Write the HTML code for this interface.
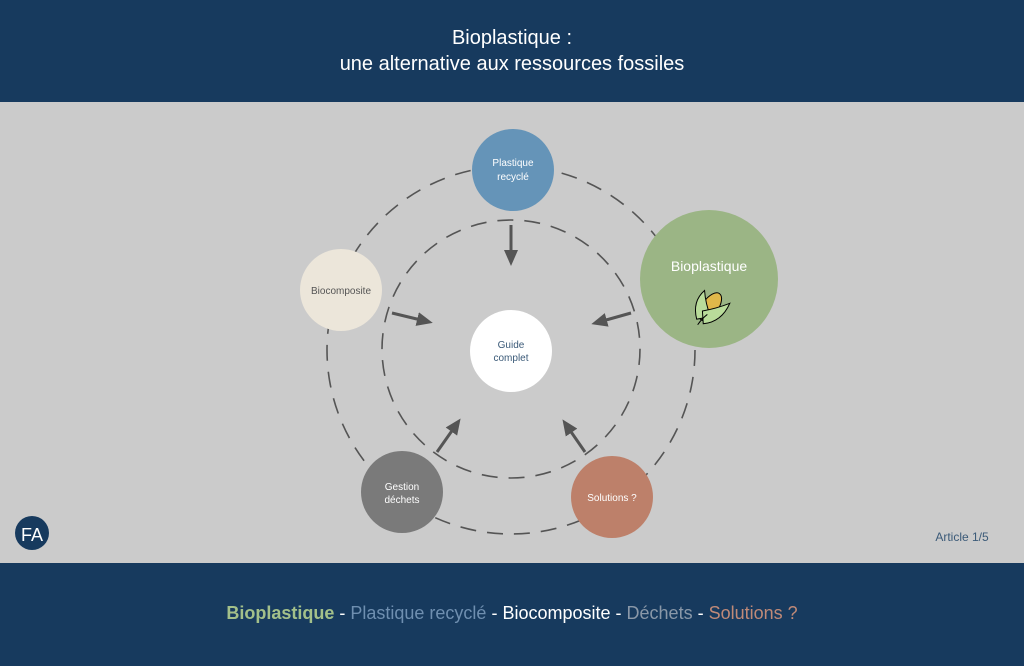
<!DOCTYPE html>
<html><head><meta charset="utf-8"><style>
body{margin:0;width:1024px;height:666px;overflow:hidden;font-family:"Liberation Sans",sans-serif;background:#cbcbcb}
.h{position:absolute;left:0;top:0;width:1024px;height:102px;background:#173a5e;color:#fff;text-align:center;font-size:20px;line-height:26px}
.f{position:absolute;left:0;top:563px;width:1024px;height:103px;background:#173a5e;text-align:center;font-size:18px;line-height:100px}
</style></head><body>
<div class="h"><div style="padding-top:25px">Bioplastique :<br>une alternative aux ressources fossiles</div></div>
<svg style="position:absolute;left:0;top:0" width="1024" height="666">
<defs><marker id="a" markerWidth="16" markerHeight="16" refX="8" refY="8" orient="auto" markerUnits="userSpaceOnUse" viewBox="0 0 16 16"><path d="M0,1L16,8L0,15Z" fill="#555"/></marker></defs>
<g fill="none" stroke="#555" stroke-width="1.6" stroke-dasharray="16 11">
<circle cx="511" cy="350" r="184"/>
<circle cx="511" cy="349" r="129"/>
</g>
<g stroke="#555" stroke-width="3" marker-end="url(#a)">
<line x1="511" y1="225" x2="511" y2="258"/>
<line x1="392" y1="313" x2="425" y2="321"/>
<line x1="631" y1="313" x2="599" y2="322"/>
<line x1="437" y1="452" x2="456" y2="425"/>
<line x1="585" y1="452" x2="567" y2="426"/>
</g>
<circle cx="513" cy="170" r="41" fill="#6594b8"/>
<circle cx="709" cy="279" r="69" fill="#9bb585"/>
<circle cx="341" cy="290" r="41" fill="#ece6da"/>
<circle cx="511" cy="351" r="41" fill="#fff"/>
<circle cx="402" cy="492" r="41" fill="#7a7a7a"/>
<circle cx="612" cy="497" r="41" fill="#bd806a"/>
<g transform="translate(708,310) rotate(-55)">
<ellipse cx="4" cy="0" rx="16" ry="8" fill="#e0b84a" stroke="#000"/>
<path d="M-14,-4 Q-2,-18 14,-14 Q4,-6 -4,6Z" fill="#b9dc9a" stroke="#000"/>
<path d="M-14,4 Q-2,18 18,14 Q6,6 -4,-4Z" fill="#b9dc9a" stroke="#000"/>
<path d="M-18,0 Q-10,0 -4,2" fill="none" stroke="#000"/>
</g>
<g font-size="10" text-anchor="middle" fill="#fff">
<text x="513" y="166">Plastique</text><text x="513" y="180">recyclé</text>
<text x="709" y="271" font-size="14">Bioplastique</text>
<text x="341" y="294" fill="#555">Biocomposite</text>
<text x="511" y="348" fill="#3b5a78">Guide</text><text x="511" y="361" fill="#3b5a78">complet</text>
<text x="402" y="490">Gestion</text><text x="402" y="503">déchets</text>
<text x="612" y="501">Solutions ?</text>
<text x="962" y="541" font-size="12" fill="#3b5a78">Article 1/5</text>
</g>
<circle cx="32" cy="533" r="17" fill="#173a5e"/>
<text x="32" y="541" font-size="18" fill="#fff" text-anchor="middle">FA</text>
</svg>
<div class="f"><b style="color:#a3c08a">Bioplastique</b> <span style="color:#fff">-</span> <span style="color:#6f8fb0">Plastique recyclé</span> <span style="color:#fff">- Biocomposite -</span> <span style="color:#8a98a8">Déchets</span> <span style="color:#fff">-</span> <span style="color:#c08a78">Solutions ?</span></div>
</body></html>
